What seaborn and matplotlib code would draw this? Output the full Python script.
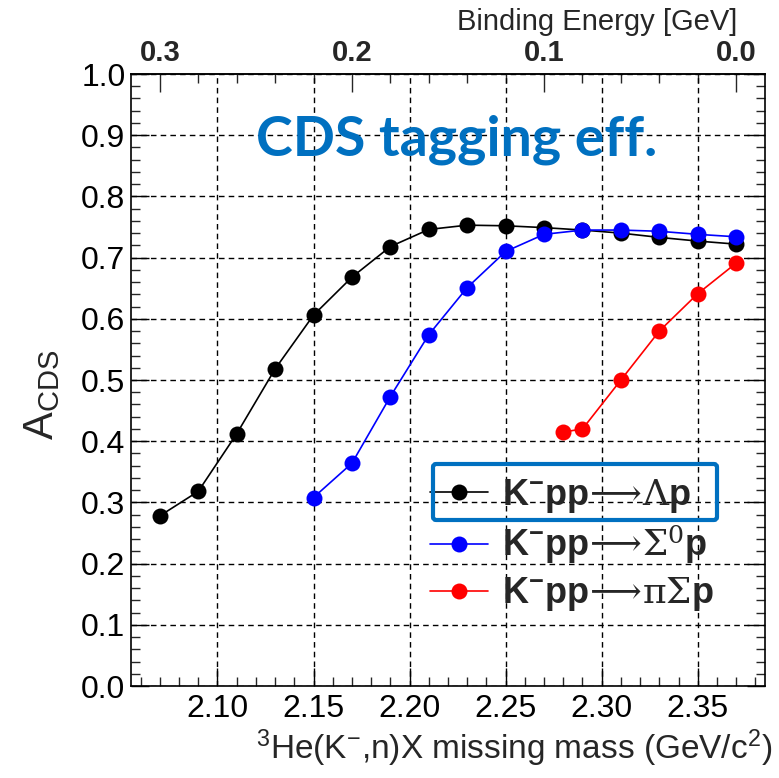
import matplotlib
matplotlib.use("Agg")
import matplotlib.pyplot as plt
from matplotlib.lines import Line2D
from matplotlib.patches import FancyBboxPatch
from matplotlib.ticker import MultipleLocator, FormatStrFormatter
import numpy as np
import pandas as pd
import seaborn as sns

# Missing-mass bins (GeV/c^2) and CDS tagging efficiency per decay channel
mass_lambda_p = [2.07, 2.09, 2.11, 2.13, 2.15, 2.17, 2.19, 2.21,
                 2.23, 2.25, 2.27, 2.29, 2.31, 2.33, 2.35, 2.37]
eff_lambda_p = [0.278, 0.318, 0.412, 0.518, 0.606, 0.668, 0.718, 0.746,
                0.753, 0.752, 0.749, 0.745, 0.740, 0.733, 0.727, 0.722]

mass_sigma0_p = [2.15, 2.17, 2.19, 2.21, 2.23, 2.25, 2.27, 2.29,
                 2.31, 2.33, 2.35, 2.37]
eff_sigma0_p = [0.308, 0.364, 0.473, 0.574, 0.651, 0.710, 0.738, 0.745,
                0.745, 0.743, 0.738, 0.734]

mass_pisigma_p = [2.28, 2.29, 2.31, 2.33, 2.35, 2.37]
eff_pisigma_p = [0.415, 0.420, 0.500, 0.580, 0.641, 0.691]

channels = [r"$\mathbf{K^{-}pp}\mathsf{\!\longrightarrow\!\Lambda}\mathbf{p}$",
            r"$\mathbf{K^{-}pp}\mathsf{\!\longrightarrow\!\Sigma^{0}}\mathbf{p}$",
            r"$\mathbf{K^{-}pp}\mathsf{\!\longrightarrow\!\pi\Sigma}\mathbf{p}$"]
colors = ["#000000", "#0000ff", "#ff0000"]

kpp_threshold = 2.370  # M(K-) + 2 M(p), zero binding energy
be_ticks = [0.0, 0.1, 0.2, 0.3]

df = pd.concat([
    pd.DataFrame({"mass": mass_lambda_p, "eff": eff_lambda_p, "channel": channels[0]}),
    pd.DataFrame({"mass": mass_sigma0_p, "eff": eff_sigma0_p, "channel": channels[1]}),
    pd.DataFrame({"mass": mass_pisigma_p, "eff": eff_pisigma_p, "channel": channels[2]}),
], ignore_index=True)

sns.set_style("ticks")
plt.rcParams["font.family"] = ["Liberation Sans", "DejaVu Sans"]
plt.rcParams["mathtext.fontset"] = "custom"
plt.rcParams["mathtext.rm"] = "Liberation Sans"
plt.rcParams["mathtext.bf"] = "Liberation Sans:bold"
plt.rcParams["mathtext.it"] = "Liberation Sans:italic"
plt.rcParams["mathtext.sf"] = "DejaVu Serif"

W, H = 779, 778
fig = plt.figure(figsize=(W / 100, H / 100), dpi=100)
ax = fig.add_axes([131 / W, 1 - 686 / H, (765 - 131) / W, (686 - 74) / H])

ax.grid(True, which="major", color="black", linestyle=(0, (4, 3)), linewidth=1.0)
ax.set_axisbelow(True)

sns.lineplot(data=df, x="mass", y="eff", hue="channel", hue_order=channels,
             palette=colors, marker="o", markersize=11.5, markeredgewidth=0,
             linewidth=1.2, legend=False, sort=True, ax=ax)

ax.set_xlim(2.055, 2.385)
ax.set_ylim(0.0, 1.0)
ax.xaxis.set_major_locator(MultipleLocator(0.05))
ax.xaxis.set_minor_locator(MultipleLocator(0.01))
ax.yaxis.set_major_locator(MultipleLocator(0.1))
ax.yaxis.set_minor_locator(MultipleLocator(0.02))
ax.xaxis.set_major_formatter(FormatStrFormatter("%.2f"))
ax.yaxis.set_major_formatter(FormatStrFormatter("%.1f"))
ax.set_xticks([2.10, 2.15, 2.20, 2.25, 2.30, 2.35])

ax.tick_params(axis="both", which="major", direction="in", length=13, width=1,
               labelsize=23, colors="black")
ax.tick_params(axis="both", which="minor", direction="in", length=6.5, width=1)
ax.tick_params(axis="y", which="both", left=True, right=True)
ax.tick_params(axis="x", which="both", bottom=True, top=False, pad=6)
ax.tick_params(axis="y", which="major", pad=4)
for s in ax.spines.values():
    s.set_linewidth(1.2)
    s.set_color("black")

ax.set_xlabel("")
ax.set_ylabel("")

# Binding energy scale along the top edge
sec = ax.secondary_xaxis("top", functions=(lambda m: kpp_threshold - m,
                                           lambda b: kpp_threshold - b))
sec.set_xticks(be_ticks)
sec.xaxis.set_major_formatter(FormatStrFormatter("%.1f"))
sec.xaxis.set_minor_locator(MultipleLocator(0.02))
sec.tick_params(axis="x", which="major", direction="in", length=13, width=1,
                labelsize=21, pad=5)
sec.tick_params(axis="x", which="minor", direction="in", length=6.5, width=1)
for lab in sec.get_xticklabels():
    lab.set_fontweight("bold")
sec.spines["top"].set_linewidth(1.2)

fig.text(737 / W, 1 - 22 / H, "Binding Energy [GeV]", ha="right", va="center",
         fontsize=21)
fig.text(772 / W, 1 - 748 / H,
         r"$^{3}$He(K$^{-}$,n)X missing mass (GeV/c$^{2}$)",
         ha="right", va="center", fontsize=24)
fig.text(42 / W, 1 - 395 / H, r"A$_{\mathrm{CDS}}$", ha="center", va="center",
         rotation=90, fontsize=30)

fig.text(457 / W, 1 - 140 / H, "CDS tagging eff.", ha="center", va="center",
         fontsize=40, fontweight="bold", color="#0070c0", family="Lato")

handles = [Line2D([0], [0], color=c, marker="o", markersize=11.5,
                  markeredgewidth=0, linewidth=1.2) for c in colors]
leg = ax.legend(handles, channels, loc="center left",
                bbox_to_anchor=((430 - 131) / 634, (686 - 545) / 612),
                frameon=False, fontsize=26, handlelength=1.6,
                handletextpad=0.4, labelspacing=0.25, borderpad=0,
                borderaxespad=0)

# Highlight box around the Lambda p channel
box = FancyBboxPatch((433 / W, 1 - 520 / H), (717 - 433) / W, (520 - 464) / H,
                     boxstyle="round,pad=0,rounding_size=0.004",
                     transform=fig.transFigure, fill=False,
                     edgecolor="#0070c0", linewidth=3)
fig.patches.append(box)

fig.savefig("out.png", dpi=100)
